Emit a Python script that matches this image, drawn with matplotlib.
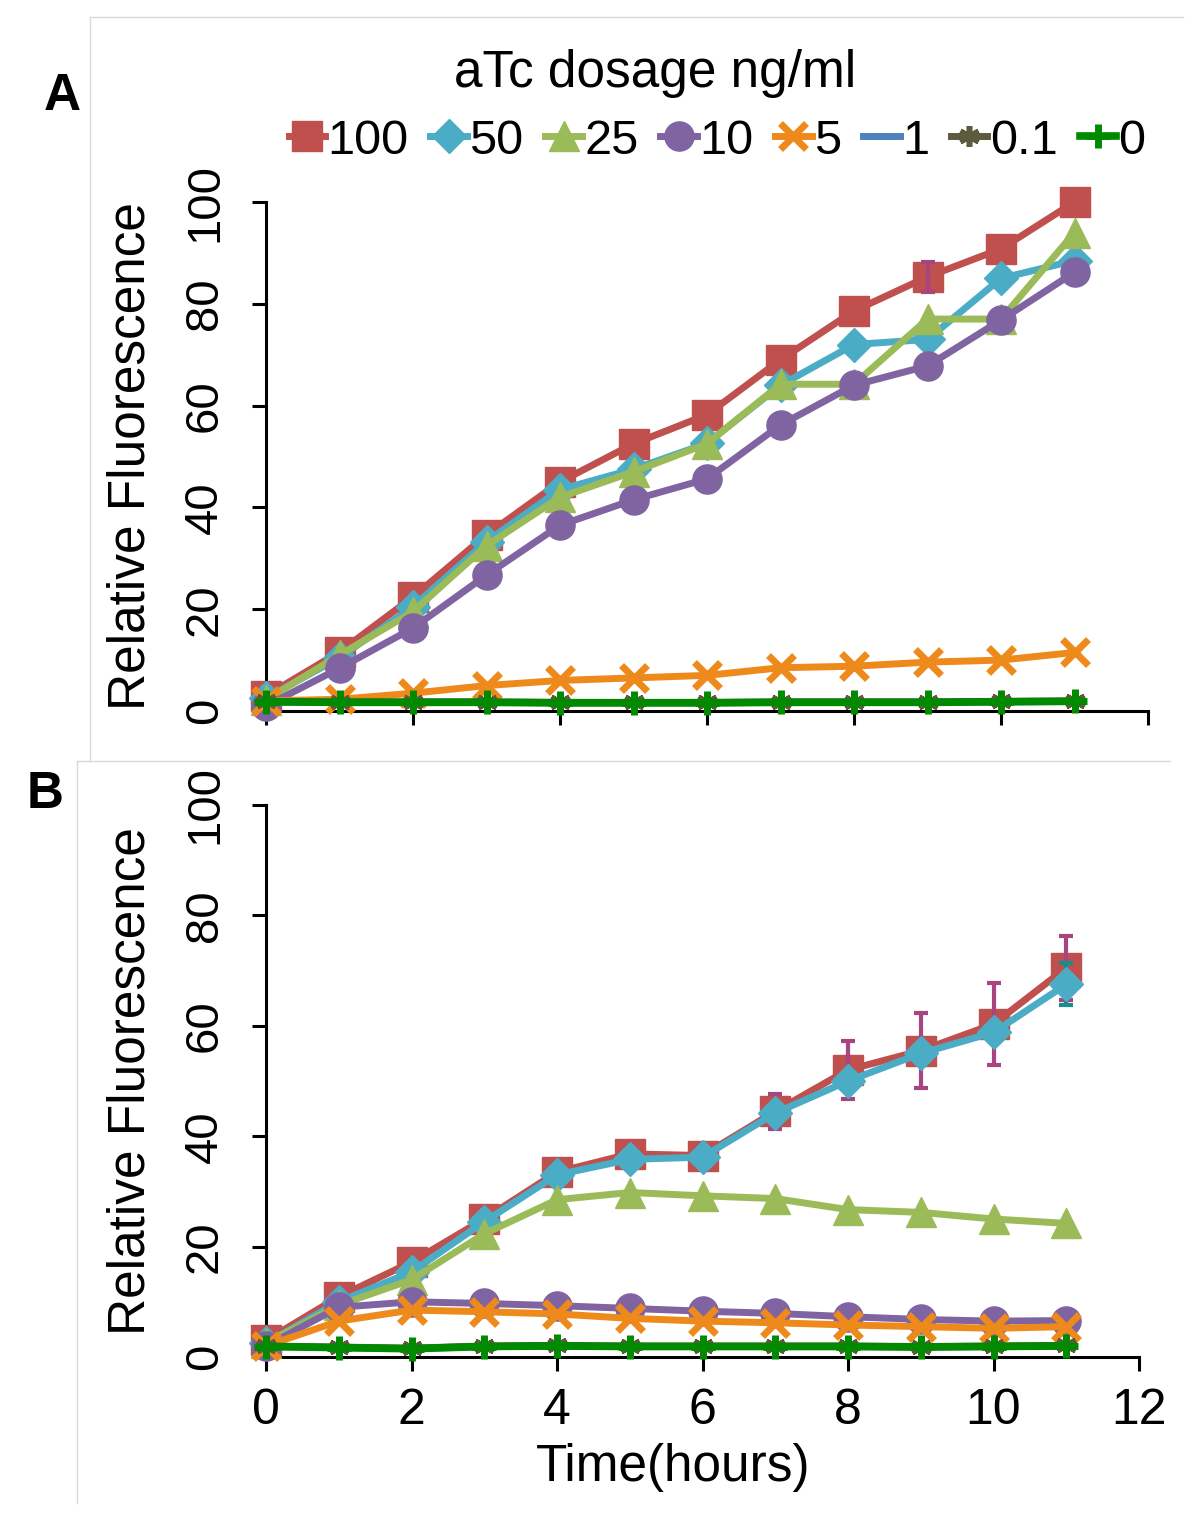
import numpy as np
import matplotlib.pyplot as plt
from matplotlib.lines import Line2D

plt.rcParams['font.family'] = ['Liberation Sans', 'DejaVu Sans']

hours = np.arange(12)
doses = ['100', '50', '25', '10', '5', '1', '0.1', '0']

# panel A: relative fluorescence per aTc dose
a_100 = [3, 11.6, 22.4, 34.6, 45, 52.5, 58.2, 69, 78.6, 85.3, 90.8, 100]
a_50 = [2.5, 10.5, 20.5, 33.3, 43.5, 47.5, 52.6, 64, 72, 73, 85, 88.5]
a_25 = [2.2, 11, 19.5, 32.5, 42, 47, 52.5, 64.2, 64.2, 77, 77, 94]
a_10 = [1, 8.4, 16.3, 26.7, 36.5, 41.5, 45.6, 56.2, 64, 67.8, 76.8, 86.2]
a_5 = [2, 2.3, 3.5, 5, 6, 6.5, 7, 8.5, 8.8, 9.6, 10, 11.5]
a_1 = [1.8, 1.7, 1.7, 1.7, 1.6, 1.6, 1.6, 1.7, 1.7, 1.7, 1.8, 1.9]
a_01 = [1.9, 1.8, 1.8, 1.8, 1.7, 1.7, 1.7, 1.8, 1.8, 1.8, 1.9, 2.0]
a_0 = [1.8, 1.7, 1.7, 1.7, 1.6, 1.6, 1.6, 1.7, 1.7, 1.7, 1.8, 1.9]
a_100_err = [0, 0, 0, 0, 0, 0, 0, 0, 0, 3, 0, 0]

# panel B
b_100 = [3, 10.9, 17.2, 25, 33.5, 36.8, 36.5, 44.5, 52, 55.5, 60.3, 70.5]
b_50 = [2.5, 10, 15.4, 24.5, 33, 35.8, 36.2, 44.2, 50, 55, 58.8, 67.5]
b_25 = [2.5, 9.4, 14, 22.3, 28.5, 29.8, 29.2, 28.7, 26.7, 26.2, 25, 24.2]
b_10 = [2, 9, 10, 9.7, 9.3, 8.8, 8.3, 7.9, 7.3, 6.8, 6.5, 6.6]
b_5 = [2, 6.5, 8.5, 8.2, 7.8, 7, 6.5, 6.2, 5.8, 5.5, 5.2, 5.5]
b_1 = [1.9, 1.7, 1.5, 1.9, 2.0, 1.9, 1.9, 1.9, 1.9, 1.8, 1.9, 2.0]
b_01 = [2.0, 1.8, 1.6, 2.0, 2.1, 2.0, 2.0, 2.0, 2.0, 1.9, 2.0, 2.1]
b_0 = [1.9, 1.7, 1.5, 1.9, 2.0, 1.9, 1.9, 1.9, 1.9, 1.8, 1.9, 2.0]
b_100_err = [0, 0, 0, 0, 0, 0, 0, 3.2, 5.3, 6.8, 7.4, 5.8]
b_50_err = [0, 0, 0, 0, 0, 0, 0, 0, 0, 0, 0, 3.8]

colors = ['#C0504D', '#4BACC6', '#9BBB59', '#8064A2', '#EE8A1C', '#4F81BD', '#5E5A3E', '#008A00']
markers = ['s', 'D', '^', 'o', 'x', '_', (6, 2, 0), '+']
msizes = [21, 17, 21, 21, 19, 16, 15, 17]
mews = [1, 1, 1, 1, 5, 4, 4, 5]
lws = [5, 5, 5, 5, 5, 5, 5, 5.5]

fig = plt.figure(figsize=(12, 15.21), dpi=100)
W, H = 1200, 1521


def fbox(l, r, b, t):
    return [l / W, 1 - b / H, (r - l) / W, (b - t) / H]


# light panel frames
for x0, y0, x1, y1 in [(90, 17, 1183, 760), (77, 761, 1170, 1503)]:
    fig.add_artist(Line2D([x0 / W, x0 / W], [1 - y0 / H, 1 - y1 / H], color='#D9D9D9', lw=1))
    fig.add_artist(Line2D([x0 / W, x1 / W], [1 - y0 / H, 1 - y0 / H], color='#D9D9D9', lw=1))

axA = fig.add_axes(fbox(266, 1148, 711, 202))
axB = fig.add_axes(fbox(266, 1139, 1357, 805))

seriesA = [a_100, a_50, a_25, a_10, a_5, a_1, a_01, a_0]
seriesB = [b_100, b_50, b_25, b_10, b_5, b_1, b_01, b_0]

for ax, series in [(axA, seriesA), (axB, seriesB)]:
    for i, ys in enumerate(series):
        ax.plot(hours, ys, color=colors[i], marker=markers[i], ms=msizes[i], mew=mews[i],
                lw=lws[i], clip_on=False, zorder=3 + i, label=doses[i])
    ax.set_xlim(0, 12)
    ax.set_ylim(0, 100)
    ax.set_xticks([0, 2, 4, 6, 8, 10, 12])
    ax.set_yticks([0, 20, 40, 60, 80, 100])
    ax.spines[['top', 'right']].set_visible(False)
    ax.spines[['left', 'bottom']].set_linewidth(2.2)
    ax.tick_params(direction='out', length=10, width=2.2, labelsize=34)
    ax.tick_params(axis='y', labelrotation=90, pad=18)
    for lab in ax.get_yticklabels():
        lab.set_va('center')
    ax.set_ylabel('Relative Fluorescence', fontsize=37, labelpad=20)

axA.tick_params(axis='x', labelbottom=False)
axB.tick_params(axis='x', labelsize=36, pad=12)
axB.set_xlabel('Time(hours)', fontsize=37, labelpad=6)
axB.xaxis.set_label_coords(0.466, -0.155)


def errs(ax, ys, err, color, z):
    ys, err = np.array(ys), np.array(err)
    m = err > 0
    ax.errorbar(hours[m], ys[m], yerr=err[m], fmt='none', ecolor=color, elinewidth=3,
                capsize=5, capthick=3, zorder=z)


errs(axA, a_100, a_100_err, '#A8457E', 3.5)
errs(axB, b_100, b_100_err, '#A8457E', 3.5)
errs(axB, b_50, b_50_err, '#1A8C8C', 3.8)

handles, labels = axA.get_legend_handles_labels()
fig.legend(handles, labels, loc='center', bbox_to_anchor=(717 / W, 1 - 141 / H), ncol=8,
           frameon=False, fontsize=35, handlelength=0.75, handletextpad=0.05,
           columnspacing=0.45, borderpad=0)
fig.text(655 / W, 1 - 74 / H, 'aTc dosage ng/ml', fontsize=37, ha='center', va='center')

fig.text(62 / W, 1 - 97 / H, 'A', fontsize=37, fontweight='bold', ha='center', va='center')
fig.text(45 / W, 1 - 795 / H, 'B', fontsize=37, fontweight='bold', ha='center', va='center')

fig.savefig('out.png', dpi=100)
